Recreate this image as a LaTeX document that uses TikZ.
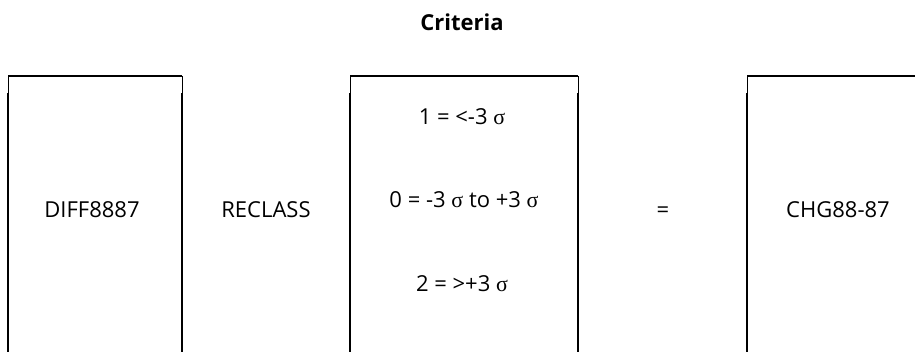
\documentclass[tikz,border=0pt]{standalone}
\usepackage{fontspec}
\setmainfont{Open Sans}
\newfontfamily\sigfont{Liberation Serif}
\newcommand{\sg}{{\sigfont σ}}
\begin{document}
\begin{tikzpicture}[x=1pt,y=-1pt,
  lbl/.style={anchor=base,inner sep=0pt,font=\fontsize{22}{26}\selectfont},
  ttl/.style={anchor=base,inner sep=0pt,font=\fontsize{22}{26}\selectfont\bfseries},
  topline/.style={line width=1.6pt},
  thinside/.style={line width=0.9pt},
  thickside/.style={line width=2pt}]
\useasboundingbox (0,0) rectangle (915,352);
% box 1
\draw[topline] (8,76) -- (182,76);
\draw[thinside] (8,76) -- (8,93) (182,76) -- (182,93);
\draw[thickside] (8,93) -- (8,352) (182,93) -- (182,352);
% box 2
\draw[topline] (350,76) -- (578,76);
\draw[thinside] (350,76) -- (350,93) (578,76) -- (578,93);
\draw[thickside] (350,93) -- (350,352) (578,93) -- (578,352);
% box 3
\draw[topline] (747,76) -- (915,76);
\draw[thinside] (747,76) -- (747,93);
\draw[thickside] (747,93) -- (747,352);
% texts
\node[ttl] (title) at (462,31) {Criteria};
\node[lbl] (diff) at (92,218) {DIFF8887};
\node[lbl] (recl) at (266,218) {RECLASS};
\node[lbl] (r1) at (462,125) {1 = <-3 \sg};
\node[lbl] (r2) at (464,208) {0 = -3 \sg{} to +3 \sg};
\node[lbl] (r3) at (462,292) {2 = >+3 \sg};
\node[lbl] (eq) at (663,218) {=};
\node[lbl] (chg) at (838,218) {CHG88-87};
\end{tikzpicture}
\end{document}
